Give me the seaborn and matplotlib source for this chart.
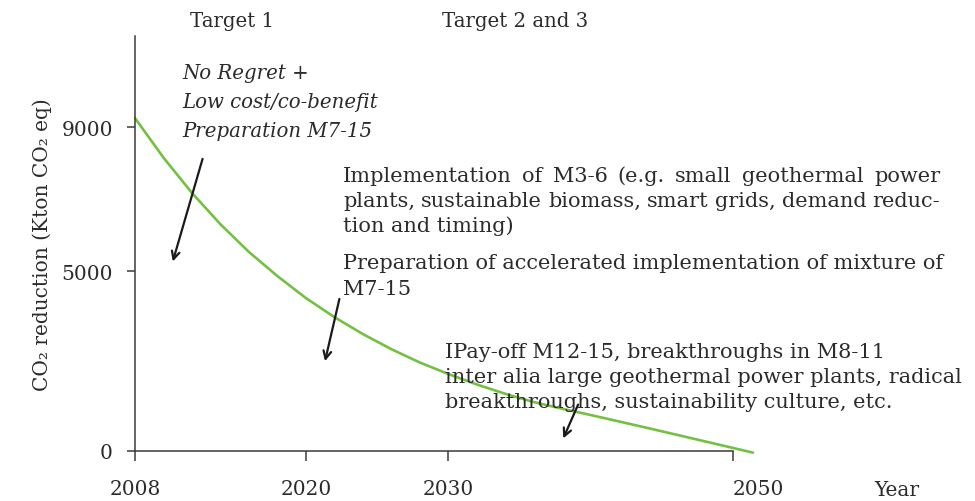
import matplotlib
matplotlib.use("Agg")
import matplotlib.pyplot as plt
import seaborn as sns
import pandas as pd

# curve (year, kton CO2 eq)
years = [2008, 2010, 2012, 2014, 2016, 2018, 2020, 2022, 2024, 2026, 2028, 2030,
         2032, 2034, 2036, 2038, 2040, 2042, 2044, 2046, 2048, 2050, 2051.4]
reduction = [9250, 8150, 7170, 6300, 5530, 4860, 4250, 3720, 3250, 2830, 2460, 2140,
             1850, 1590, 1360, 1175, 1000, 820, 640, 455, 270, 85, -45]

xticks = [2008, 2020, 2030, 2050]
yticks = [0, 5000, 9000]

W, H = 975, 502
TXT = "#2b2b2b"
AX = "#3a3a3a"
GREEN = "#74c043"


def main():
    sns.set_theme(style="white")
    plt.rcParams["font.family"] = ["DejaVu Serif"]

    fig = plt.figure(figsize=(W / 100, H / 100), dpi=100)
    ax = fig.add_axes([135 / W, 1 - 452 / H, (733 - 135) / W, (452 - 37) / H])

    df = pd.DataFrame({"Year": years, "CO2": reduction})
    sns.lineplot(data=df, x="Year", y="CO2", ax=ax, color=GREEN,
                 linewidth=1.9, clip_on=False, sort=False)

    ax.set_xlim(2008, 2050)
    ax.set_ylim(0, 11530)
    ax.set_xticks(xticks)
    ax.set_xticklabels([str(t) for t in xticks])
    ax.set_yticks(yticks)
    ax.set_yticklabels([str(t) for t in yticks])
    ax.set_xlabel("")
    ax.set_ylabel("")
    for s in ["top", "right"]:
        ax.spines[s].set_visible(False)
    for s in ["left", "bottom"]:
        ax.spines[s].set_color(AX)
        ax.spines[s].set_linewidth(1.1)
    ax.tick_params(axis="x", direction="out", length=7, width=1.1, color=AX,
                   pad=13, labelsize=14.5, labelcolor=TXT, bottom=True)
    ax.tick_params(axis="y", direction="out", length=6, width=1.1, color=AX,
                   pad=10, labelsize=14.5, labelcolor=TXT, left=True)
    ax.get_xticklabels()[-1].set_horizontalalignment("left")

    # y is the baseline, in pixels from the top
    def put(x, y, s, **kw):
        kw.setdefault("va", "baseline")
        return fig.text(x / W, 1 - y / H, s, color=TXT, **kw)

    fs = 15
    put(190, 27, "Target 1", fontsize=14.2)
    put(442, 27, "Target 2 and 3", fontsize=14.2)
    put(897, 496, "Year", fontsize=14.5, ha="center")
    put(42, 245, "CO\u2082 reduction (Kton CO\u2082 eq)", fontsize=14.5,
        rotation=90, ha="center", va="center")

    for y, s in [(79, "No Regret +"), (108, "Low cost/co-benefit"),
                 (137, "Preparation M7-15")]:
        put(182, y, s, fontsize=14.2, style="italic")

    renderer = fig.canvas.get_renderer()

    def justified(x0, x1, y, line):
        words = line.split()
        texts = [put(0, y, w, fontsize=fs) for w in words]
        widths = [t.get_window_extent(renderer).width for t in texts]
        gap = (x1 - x0 - sum(widths)) / (len(words) - 1)
        x = x0
        for t, w in zip(texts, widths):
            t.set_position((x / W, 1 - y / H))
            x += w + gap

    justified(343, 940, 182, "Implementation of M3-6 (e.g. small geothermal power")
    justified(343, 940, 207, "plants, sustainable biomass, smart grids, demand reduc-")
    put(343, 232, "tion and timing)", fontsize=fs)
    put(343, 269, "Preparation of accelerated implementation of mixture of", fontsize=fs)
    put(343, 295, "M7-15", fontsize=fs)
    put(445, 358, "IPay-off M12-15, breakthroughs in M8-11", fontsize=fs)
    put(445, 383, "inter alia large geothermal power plants, radical", fontsize=fs)
    put(445, 408, "breakthroughs, sustainability culture, etc.", fontsize=fs)

    arrows = [((2012.8, 8190), (2010.6, 5190)),
              ((2022.4, 4300), (2021.3, 2420)),
              ((2039.2, 1360), (2038.0, 280))]
    for start, end in arrows:
        ax.annotate("", xy=end, xytext=start, annotation_clip=False,
                    arrowprops=dict(arrowstyle="->", color="#1a1a1a", lw=1.6,
                                    mutation_scale=14))

    fig.savefig("out.png", dpi=100)


if __name__ == "__main__":
    main()
